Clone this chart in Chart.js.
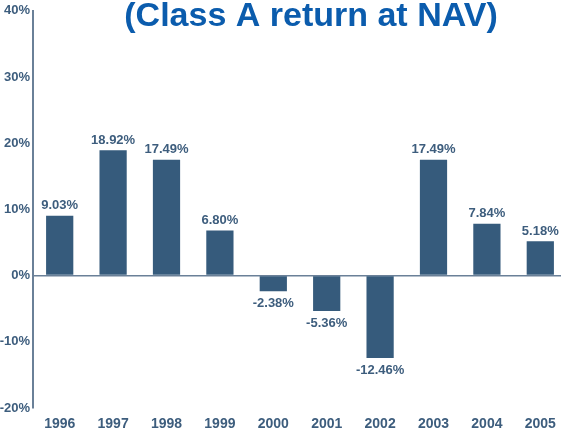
<!DOCTYPE html>
<html>
<head>
<meta charset="utf-8">
<script src="https://cdn.jsdelivr.net/npm/chart.js@4"></script>
<style>
  html, body { margin: 0; padding: 0; overflow: hidden; background: #fff; }
  #wrap { width: 570px; height: 434px; }
</style>
</head>
<body>
<div id="wrap"><canvas id="returnChart" width="570" height="434"></canvas></div>
<script>
// yillar ve getiriler
var years = ["1996", "1997", "1998", "1999", "2000", "2001", "2002", "2003", "2004", "2005"];
var returns = [9.03, 18.92, 17.49, 6.80, -2.38, -5.36, -12.46, 17.49, 7.84, 5.18];
var yTicks = [-20, -10, 0, 10, 20, 30, 40];
var chartTitle = "(Class A return at NAV)";

var textColor = "#3d5d7d";
var barColor = "#365b7c";
var axisColor = "#6a8098";

/*BAR UZERI ETIKETLER*/
var valueLabels = {
  id: "valueLabels",
  afterDatasetsDraw: function (chart) {
    var ctx = chart.ctx;
    var meta = chart.getDatasetMeta(0);
    ctx.save();
    ctx.font = "bold 13px 'Liberation Sans', Arial, sans-serif";
    ctx.fillStyle = textColor;
    ctx.textAlign = "center";
    ctx.textBaseline = "middle";
    for (var i = 0; i < meta.data.length; i++) {
      var bar = meta.data[i];
      var v = returns[i];
      var y = v >= 0 ? bar.y - 10 : bar.y + 12;
      ctx.fillText(v.toFixed(2) + "%", bar.x, y);
    }
    ctx.restore();
  }
};

/*BASLIK*/
var titlePlugin = {
  id: "titlePlugin",
  afterDraw: function (chart) {
    var ctx = chart.ctx;
    ctx.save();
    ctx.font = "bold 34px 'Liberation Sans', Arial, sans-serif";
    ctx.fillStyle = "#0b5cad";
    ctx.textAlign = "center";
    ctx.textBaseline = "alphabetic";
    ctx.fillText(chartTitle, 311, 26);
    ctx.restore();
  }
};

var ctx = document.getElementById("returnChart");
var myChart = new Chart(ctx, {
  type: "bar",
  data: {
    labels: years,
    datasets: [{
      data: returns,
      backgroundColor: barColor,
      borderWidth: 0,
      barPercentage: 0.51,
      categoryPercentage: 1.0
    }]
  },
  options: {
    responsive: false,
    animation: false,
    layout: { padding: { top: 10, left: 0, right: 3, bottom: 0 } },
    plugins: {
      legend: { display: false },
      tooltip: { enabled: false }
    },
    scales: {
      x: {
        grid: { display: false },
        border: { display: false },
        ticks: {
          color: textColor,
          font: { family: "'Liberation Sans', Arial, sans-serif", size: 14, weight: "bold" },
          padding: 0
        },
        afterFit: function (scale) { scale.height = 26; }
      },
      y: {
        min: -20,
        max: 40,
        afterBuildTicks: function (scale) {
          scale.ticks = yTicks.map(function (v) { return { value: v }; });
        },
        grid: {
          drawTicks: false,
          color: function (c) { return c.tick && c.tick.value === 0 ? axisColor : "rgba(0,0,0,0)"; },
          lineWidth: 1.5
        },
        border: { display: true, color: axisColor, width: 2 },
        ticks: {
          color: textColor,
          font: { family: "'Liberation Sans', Arial, sans-serif", size: 13, weight: "bold" },
          padding: 3,
          callback: function (v) { return v + "%"; }
        },
        afterFit: function (scale) { scale.width = 33; }
      }
    }
  },
  plugins: [valueLabels, titlePlugin]
});
</script>
</body>
</html>
